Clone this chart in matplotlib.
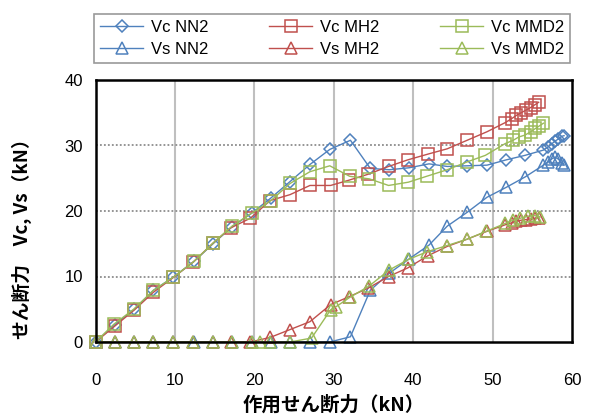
import matplotlib
matplotlib.use("Agg")
import matplotlib.pyplot as plt

plt.rcParams['font.family'] = ['Liberation Sans', 'Noto Sans CJK JP', 'DejaVu Sans']

# ---- data ----
x_nn2 = [0, 2.4, 4.9, 7.3, 9.8, 12.4, 14.8, 17.2, 19.7, 22.1, 24.5, 27.0, 29.5,
         32.1, 34.6, 37.0, 39.5, 42.0, 44.3, 46.8, 49.3, 51.7, 54.1, 56.4,
         57.0, 57.5, 57.9, 58.3, 58.7, 59.0]
vc_nn2 = [0, 2.6, 5.0, 7.9, 9.9, 12.3, 15.0, 17.6, 19.7, 22.0, 24.5, 27.1, 29.4,
          30.8, 26.5, 26.3, 26.6, 27.2, 26.8, 26.9, 27.0, 27.8, 28.5, 29.3,
          29.8, 30.3, 30.7, 31.0, 31.4, 31.5]
vs_nn2 = [0, 0, 0, 0, 0, 0, 0, 0, 0, 0, 0, 0, 0,
          0.8, 7.9, 10.5, 12.7, 14.8, 17.7, 19.8, 22.1, 23.6, 25.2, 27.0,
          27.5, 28.0, 28.2, 27.9, 27.4, 27.0]

x_mh2 = [0, 2.4, 4.9, 7.3, 9.8, 12.3, 14.8, 17.0, 19.5,
         22.0, 24.5, 27.0, 29.6, 31.9, 34.3, 36.9, 39.3, 41.9, 44.3, 46.8, 49.3, 51.6,
         52.4, 53.0, 53.6, 54.2, 54.8, 55.3, 55.8]
vc_mh2 = [0, 2.4, 4.9, 7.6, 9.85, 12.2, 15.1, 17.4, 18.9,
          21.6, 22.5, 23.9, 23.9, 24.7, 25.6, 26.8, 27.8, 28.7, 29.5, 30.8, 32.1, 33.5,
          34.1, 34.6, 35.0, 35.4, 35.8, 36.2, 36.6]
vs_mh2 = [0, 0, 0, 0, 0, 0, 0, 0, 0,
          0.7, 1.9, 3.1, 5.7, 6.9, 8.2, 10.0, 11.3, 13.2, 14.6, 15.7, 16.9, 17.9,
          18.2, 18.4, 18.6, 18.7, 18.8, 18.9, 19.0]

x_vc_mmd2 = [0, 2.3, 4.8, 7.3, 9.8, 12.4, 14.8, 17.2, 19.7, 22.1, 24.5, 27.0, 29.5,
             32.0, 34.5, 36.9, 39.4, 41.7, 44.3, 46.8, 49.1, 51.6,
             52.6, 53.3, 54.1, 54.8, 55.4, 55.9, 56.4]
vc_mmd2 = [0, 2.7, 5.0, 7.9, 9.9, 12.3, 15.1, 17.7, 19.7, 21.6, 24.2, 26.0, 26.9,
           25.3, 24.9, 23.9, 24.4, 25.3, 26.3, 27.5, 28.5, 30.3,
           30.8, 31.3, 31.6, 32.1, 32.6, 33.0, 33.4]
x_vs_mmd2 = [0, 2.4, 4.9, 7.3, 9.8, 12.3, 14.8, 17.2, 19.7, 20.7, 22.0, 24.5, 27.2,
             29.6, 30.3, 32.0, 34.4, 37.0, 39.4, 41.8, 44.2, 46.8, 49.2, 51.6,
             52.6, 53.5, 54.5, 55.3, 56.0]
vs_mmd2 = [0, 0, 0, 0, 0, 0, 0, 0, 0, 0, 0, 0, 0.6,
           4.9, 5.4, 6.8, 8.5, 11.0, 12.6, 13.8, 14.7, 15.7, 16.9, 18.1,
           18.6, 18.9, 19.2, 19.3, 19.1]

labels = ['Vc NN2', 'Vc MH2', 'Vc MMD2', 'Vs NN2', 'Vs MH2', 'Vs MMD2']
x_ticks = [0, 10, 20, 30, 40, 50, 60]
y_ticks = [0, 10, 20, 30, 40]

BLUE = '#4F81BD'
RED = '#C0504D'
GREEN = '#9BBB59'

fig = plt.figure(figsize=(5.94, 4.18), dpi=100)
ax = fig.add_axes([95.5 / 594, 1 - 342 / 418, (572 - 95.5) / 594, (342 - 80) / 418])

common = dict(lw=1.0, markerfacecolor='none', markeredgewidth=1.1, clip_on=False)
h = {}
h['Vc NN2'], = ax.plot(x_nn2, vc_nn2, color=BLUE, marker='D', ms=6.5, label='Vc NN2', **common)
h['Vc MH2'], = ax.plot(x_mh2, vc_mh2, color=RED, marker='s', ms=8, label='Vc MH2', **common)
h['Vc MMD2'], = ax.plot(x_vc_mmd2, vc_mmd2, color=GREEN, marker='s', ms=8, label='Vc MMD2', **common)
h['Vs NN2'], = ax.plot(x_nn2, vs_nn2, color=BLUE, marker='^', ms=8.5, label='Vs NN2', **common)
h['Vs MH2'], = ax.plot(x_mh2, vs_mh2, color=RED, marker='^', ms=8.5, label='Vs MH2', **common)
h['Vs MMD2'], = ax.plot(x_vs_mmd2, vs_mmd2, color=GREEN, marker='^', ms=8.5, label='Vs MMD2', **common)

ax.set_xlim(0, 60)
ax.set_ylim(0, 40)
ax.set_xticks(x_ticks)
ax.set_yticks(y_ticks)
ax.tick_params(axis='both', length=0, labelsize=12)
ax.tick_params(axis='x', pad=22)
ax.tick_params(axis='y', pad=9)

# grid
for xv in x_ticks[1:-1]:
    ax.axvline(xv, color='#BFBFBF', lw=1.5, zorder=0)
for yv in y_ticks[1:-1]:
    ax.axhline(yv, color='#8C8C8C', lw=1.3, ls=(0, (1, 1.2)), zorder=0)

for s in ax.spines.values():
    s.set_color('black')
    s.set_linewidth(1.8)

ax.set_xlabel('作用せん断力（kN）', fontsize=14, fontweight='bold',
              family=['Noto Sans CJK JP', 'DejaVu Sans'])
ax.xaxis.set_label_coords(0.5, -0.205)
ax.set_ylabel('せん断力　Vc, Vs（kN）', fontsize=13.5, fontweight='bold',
              family=['Noto Sans CJK JP', 'DejaVu Sans'])
ax.yaxis.set_label_coords(-0.133, 0.41)

order = ['Vc NN2', 'Vs NN2', 'Vc MH2', 'Vs MH2', 'Vc MMD2', 'Vs MMD2']
leg = fig.legend([h[k] for k in order], order, ncol=3, mode='expand',
                 bbox_to_anchor=(94 / 594, 1 - 66 / 418, (570 - 94) / 594, 55 / 418),
                 loc='center', fontsize=12, frameon=True, fancybox=False,
                 edgecolor='#808080', handlelength=2.6, handletextpad=0.45,
                 labelspacing=0.45, borderpad=0.35, borderaxespad=0)
leg.get_frame().set_linewidth(1.2)

fig.savefig('out.png', dpi=100)
